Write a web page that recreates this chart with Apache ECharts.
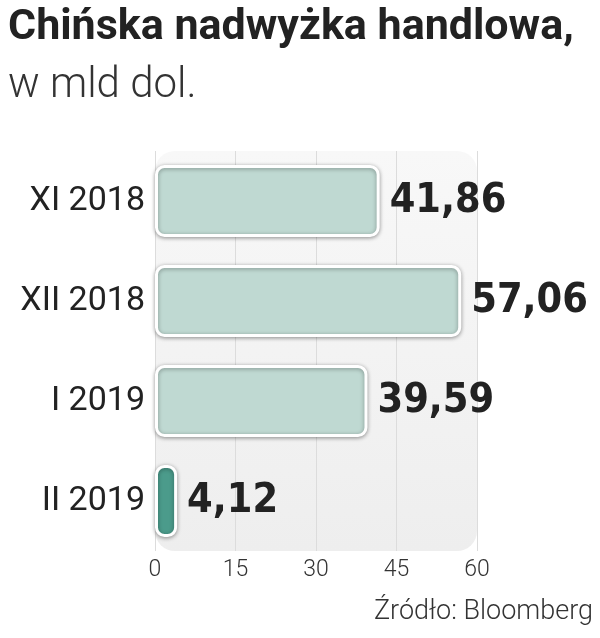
<!DOCTYPE html>
<html><head><meta charset="utf-8">
<script src="https://cdn.jsdelivr.net/npm/echarts@6/dist/echarts.min.js"></script>
<style>html,body{margin:0;padding:0;background:#fff}#c{width:600px;height:638px}</style>
</head><body><div id="c"></div>
<script>
const categories = ['XI 2018', 'XII 2018', 'I 2019', 'II 2019'];
const values = [41.86, 57.06, 39.59, 4.12];
const labels = ['41,86', '57,06', '39,59', '4,12'];
const xTicks = [0, 15, 30, 45, 60];
const barColors = ['#bfd9d2', '#bfd9d2', '#bfd9d2', '#4b9b8b'];

const chart = echarts.init(document.getElementById('c'), null, {renderer: 'canvas'});
const GRID = {left: 155, right: 123, top: 151, bottom: 87};
const option = {
  animation: false,
  title: [
    {text: 'Chińska nadwyżka handlowa,', left: 3, top: 2,
     textStyle: {fontFamily: 'Roboto', fontWeight: 'bold', fontSize: 43, color: '#222'}},
    {text: 'w mld dol.', left: 3, top: 60,
     textStyle: {fontFamily: 'Roboto', fontWeight: 300, fontSize: 42, color: '#333'}},
    {text: 'Źródło: Bloomberg', right: 2, top: 594,
     textStyle: {fontFamily: 'Roboto', fontWeight: 300, fontSize: 27, color: '#333'}}
  ],
  grid: GRID,
  xAxis: {
    type: 'value', min: 0, max: 60, interval: 15,
    axisLine: {show: false}, axisTick: {show: false},
    splitLine: {show: true, lineStyle: {color: '#dcdcdc', width: 1}},
    axisLabel: {fontFamily: 'Roboto', fontWeight: 300, fontSize: 23, color: '#333', margin: 8,
      formatter: v => xTicks.includes(v) ? String(v) : ''}
  },
  yAxis: {
    type: 'category', data: categories, inverse: true,
    axisLine: {show: false}, axisTick: {show: false},
    axisLabel: {fontFamily: 'Roboto', fontWeight: 'normal', fontSize: 34, color: '#222', margin: 10}
  },
  series: [{
    type: 'bar', barWidth: 72,
    data: values.map((v, i) => ({value: v, itemStyle: {color: barColors[i]}})),
    itemStyle: {borderColor: '#fff', borderWidth: 3, borderRadius: 8,
      shadowBlur: 4, shadowColor: 'rgba(0,0,0,0.35)', shadowOffsetY: 1},
    label: {show: true, position: 'right', distance: 10,
      formatter: p => labels[p.dataIndex],
      fontFamily: '"Liberation Sans Narrow", "DejaVu Sans Condensed", sans-serif', fontWeight: 'bold',
      fontSize: 41, color: '#222'}
  }]
};
chart.setOption(option);
const p0 = chart.convertToPixel({xAxisIndex: 0}, 0);
const p1 = chart.convertToPixel({xAxisIndex: 0}, 60);
const h = chart.getHeight() - GRID.top - GRID.bottom;
chart.setOption({graphic: [{type: 'rect', z: -10, silent: true,
  shape: {x: p0, y: GRID.top, width: p1 - p0, height: h, r: 20},
  style: {fill: new echarts.graphic.LinearGradient(0, 0, 0, 1, [{offset: 0, color: '#f8f8f8'}, {offset: 1, color: '#eeeeee'}])}}]});
</script></body></html>
